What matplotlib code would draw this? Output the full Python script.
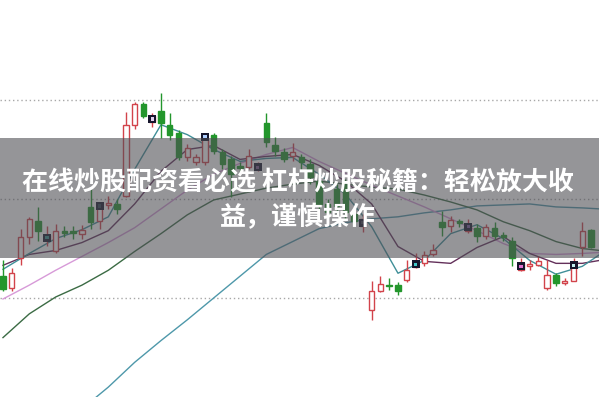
import matplotlib
matplotlib.use("Agg")
import matplotlib.pyplot as plt
from matplotlib.patches import Rectangle

# ---------------- data (prices) ----------------
opens = [12.2, 11.0, 14.0, 16.2, 17.8, 15.9, 14.7, 16.7, 16.7, 16.5,
         19.2, 17.8, 19.4, 19.5, 20.3, 27.5, 29.6, 27.8, 28.9, 27.5,
         26.7, 24.2, 23.7, 23.7, 26.5, 24.7, 24.0, 23.3, 23.2, 23.1,
         27.7, 25.5, 24.7, 24.3, 24.2, 23.5, 21.8, 19.5, 21.0, 21.5,
         18.5, 17.3, 8.8, 10.7, 11.3, 11.3, 11.8, 13.1, 13.5, 14.4,
         17.7, 17.3, 17.8, 16.8, 17.1, 16.3, 17.1, 16.4, 15.8, 12.8,
         13.2, 13.3, 11.0, 12.3, 11.5, 11.7, 15.2, 16.9]
closes = [10.9, 12.5, 16.2, 18.0, 16.8, 16.4, 16.8, 16.6, 16.6, 16.9,
          17.7, 19.5, 19.6, 19.0, 27.5, 29.6, 28.4, 28.4, 27.7, 26.5,
          24.2, 25.2, 24.2, 26.2, 24.8, 23.5, 22.5, 23.1, 24.3, 23.4,
          25.8, 24.8, 24.0, 24.7, 23.7, 22.2, 19.5, 18.7, 19.3, 18.7,
          17.8, 18.0, 10.7, 11.4, 11.2, 10.7, 12.8, 13.7, 14.3, 14.8,
          17.2, 17.9, 17.6, 17.5, 16.3, 17.2, 16.3, 16.2, 14.0, 13.5,
          13.4, 13.7, 12.3, 11.5, 11.7, 13.2, 16.8, 15.2]
highs = [13.8, 13.0, 17.0, 18.2, 19.2, 17.3, 17.5, 17.3, 17.3, 17.4,
         21.0, 19.7, 20.3, 20.0, 28.8, 29.8, 29.8, 28.7, 30.7, 28.7,
         27.0, 25.6, 24.5, 26.5, 26.7, 25.0, 24.3, 23.7, 25.0, 23.7,
         28.7, 26.3, 25.2, 25.7, 24.5, 24.0, 22.2, 20.0, 21.5, 22.0,
         18.8, 18.5, 11.7, 12.2, 12.0, 11.6, 13.8, 14.5, 14.7, 15.5,
         18.8, 18.3, 18.0, 18.0, 17.5, 17.5, 17.7, 16.7, 16.2, 14.0,
         13.8, 14.2, 13.8, 12.5, 12.0, 14.0, 17.7, 17.0]
lows = [10.7, 10.7, 13.3, 15.5, 15.8, 15.3, 14.5, 16.2, 16.0, 16.0,
        17.0, 17.0, 19.0, 18.5, 20.2, 27.1, 28.2, 27.3, 26.2, 26.0,
        23.9, 23.8, 23.4, 23.4, 24.5, 23.0, 20.2, 22.7, 23.0, 22.8,
        25.3, 24.3, 23.7, 23.8, 23.0, 21.5, 19.0, 18.2, 18.5, 18.0,
        17.4, 16.7, 7.8, 10.6, 10.8, 10.3, 11.6, 13.0, 13.2, 14.2,
        16.3, 16.7, 17.2, 16.6, 15.7, 16.0, 16.0, 15.8, 13.2, 12.7,
        12.8, 13.2, 10.8, 11.2, 11.3, 11.7, 14.2, 15.0]

# signal markers (small dark squares)
marker_idx = [5, 11, 17, 23, 29, 41, 47, 53, 59, 65]
marker_price = [16.1, 19.3, 28.1, 26.3, 23.2, 17.6, 13.4, 17.2, 13.2, 13.3]
marker_inner = ["#3a8a8a", "#304050", "#e0d0f0", "#b0d0ff", "#7a5a8a",
                "#404050", "#40c8c8", "#7a5a9a", "#e070d0", "#c0f0f0"]

# moving average lines (values read at sample positions)
ma_idx = [0, 3, 6, 9, 12, 15, 18, 21, 24, 27, 30, 33, 36, 39, 42, 45,
          48, 51, 54, 57, 60, 63, 66, 68]
ma5 = [12.9, 14.5, 16.0, 16.9, 18.2, 23.0, 27.5, 26.5, 25.0, 23.8, 24.1, 24.2,
       22.5, 20.5, 17.2, 12.5, 13.8, 16.5, 17.4, 16.0, 13.8, 12.4, 13.2, 14.4]
ma10 = [13.3, 14.4, 14.8, 15.6, 16.8, 19.5, 22.8, 25.0, 25.4, 24.0, 24.3, 24.5,
        23.4, 21.8, 19.5, 15.2, 13.7, 13.5, 15.1, 16.2, 14.5, 13.5, 13.5, 13.8]
ma20 = [9.9, 11.3, 12.8, 14.2, 15.6, 17.1, 19.0, 20.9, 22.5, 23.6, 24.5, 25.2,
        23.8, 22.6, 21.4, 20.3, 19.2, 18.0, 16.8, 15.5, 14.5, 14.4, 14.5, 14.6]
ma30 = [6.0, 8.4, 10.1, 11.3, 12.8, 14.7, 16.5, 18.4, 19.9, 20.5, 21.1, 21.5,
        21.8, 21.5, 21.2, 21.0, 20.4, 19.7, 18.9, 17.7, 16.8, 15.7, 15.0, 14.8]
ma60_idx = [9, 12, 15, 18, 21, 24, 27, 30, 33, 36, 39, 42, 45, 48, 51, 54,
            57, 60, 63, 66, 68]
ma60 = [-1.2, 1.0, 3.5, 5.7, 7.8, 10.0, 12.2, 14.4, 15.7, 17.0, 17.6, 18.0,
        18.2, 18.6, 18.9, 19.3, 19.4, 19.5, 19.2, 19.1, 19.0]

grid_levels = [10, 20, 30]

title_line1 = "在线炒股配资看必选 杠杆炒股秘籍：轻松放大收"
title_line2 = "益，谨慎操作"

# ---------------- drawing ----------------
RED = "#d2434b"
GREEN = "#23962c"

fig = plt.figure(figsize=(5.99, 3.97), dpi=100)
fig.patch.set_facecolor("white")
ax = fig.add_axes([0, 0, 1, 1])
ax.set_facecolor("white")
ax.set_xlim(-0.34, 67.9)
ax.set_ylim(0.0, 40.1)
ax.axis("off")

for g in grid_levels:
    ax.axhline(g, color="#a8a8a8", lw=1.0, linestyle=(0, (1, 2)), zorder=1)

xs = list(range(len(opens)))
for i, (o, c, h, l) in enumerate(zip(opens, closes, highs, lows)):
    up = c >= o
    col = RED if up else GREEN
    ax.vlines(i, l, h, color=col, lw=1.0, zorder=3)
    height = abs(c - o)
    if height < 0.15:
        height = 0.15
    bottom = min(o, c)
    if up:
        ax.bar(i, height, bottom=bottom, width=0.62, facecolor="white",
               edgecolor=col, linewidth=1.0, zorder=4)
    else:
        ax.bar(i, height, bottom=bottom, width=0.62, facecolor=col,
               edgecolor=col, linewidth=1.0, zorder=4)

ax.plot(ma60_idx, ma60, color="#4e98aa", lw=1.0, zorder=2)
ax.plot(ma_idx, ma30, color="#3b6b44", lw=1.0, zorder=2)
ax.plot(ma_idx, ma20, color="#d79ad8", lw=1.0, zorder=2)
ax.plot(ma_idx, ma10, color="#63305a", lw=1.0, zorder=2)
ax.plot(ma_idx, ma5, color="#3f8f98", lw=1.0, zorder=2)

ax.scatter(marker_idx, marker_price, marker="s", s=30, color="#16162c",
           zorder=5, linewidths=0)
ax.scatter(marker_idx, marker_price, marker="s", s=6, c=marker_inner,
           zorder=6, linewidths=0)

# translucent banner
fig.patches.append(Rectangle((0, 1 - 258 / 397), 1, 120 / 397,
                             transform=fig.transFigure, facecolor="#4e4e54",
                             alpha=0.6, edgecolor="none", zorder=10))

fam = ["Noto Sans CJK SC", "DejaVu Sans"]
fig.text(0.498, 1 - 183 / 397, title_line1, ha="center", va="center",
         color="white", fontsize=18.7, fontweight="bold", family=fam, zorder=11)
fig.text(0.498, 1 - 218 / 397, title_line2, ha="center", va="center",
         color="white", fontsize=18.7, fontweight="bold", family=fam, zorder=11)

fig.savefig("out.png", dpi=100, facecolor="white")
